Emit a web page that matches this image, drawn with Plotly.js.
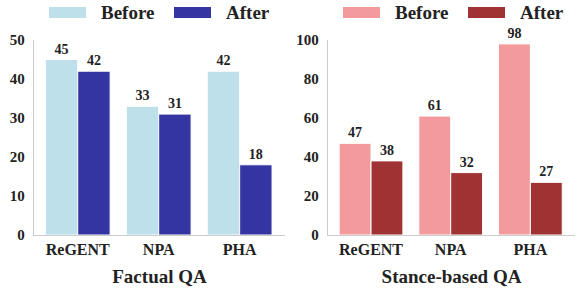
<!DOCTYPE html>
<html><head><meta charset="utf-8">
<script src="https://cdn.plot.ly/plotly-3.0.1.min.js"></script>
<style>html,body{margin:0;padding:0;background:#fff}#c{width:578px;height:291px}</style>
</head><body><div id="c"></div>
<script>
const categories = ["ReGENT", "NPA", "PHA"];
const seriesNames = ["Before", "After"];
const factualBefore = [45, 33, 42];
const factualAfter = [42, 31, 18];
const stanceBefore = [47, 61, 98];
const stanceAfter = [38, 32, 27];
const panelTitles = ["Factual QA", "Stance-based QA"];

const F = "Liberation Serif";
const colors = {fb: "#BEE0EB", fa: "#3434A2", sb: "#F39B9C", sa: "#A13234"};

function bar(y, color, xa, ya, name) {
  return {type: "bar", x: categories, y: y, name: name, xaxis: xa, yaxis: ya,
    marker: {color: color, line: {color: "#ffffff", width: 1}},
    text: y.map(String), textposition: "outside", cliponaxis: false,
    textfont: {family: F, size: 14, color: "#222", weight: "bold"},
    showlegend: false, hoverinfo: "skip"};
}
const data = [
  bar(factualBefore, colors.fb, "x", "y", seriesNames[0]),
  bar(factualAfter, colors.fa, "x", "y", seriesNames[1]),
  bar(stanceBefore, colors.sb, "x2", "y2", seriesNames[0]),
  bar(stanceAfter, colors.sa, "x2", "y2", seriesNames[1])
];

const yb = (291 - 235) / 291, yt = (291 - 40) / 291;
function xaxis(d, anchor, title) {
  return {domain: d, anchor: anchor, range: [-0.54, 2.56], showline: true, linecolor: "#cccccc", linewidth: 1.2,
    ticks: "", showgrid: false, zeroline: false, fixedrange: true,
    tickfont: {family: F, size: 16, color: "#222", weight: "bold"},
    title: {text: title, standoff: 12, font: {family: F, size: 19, color: "#222", weight: "bold"}}};
}
function yaxis(anchor, range, dtick) {
  return {domain: [yb, yt], anchor: anchor, range: range, dtick: dtick, showline: true, linecolor: "#cccccc", linewidth: 1.2,
    ticks: "", showgrid: false, zeroline: false, fixedrange: true, ticklabelstandoff: 5,
    tickfont: {family: F, size: 15, color: "#222", weight: "bold"}};
}

const shapes = [], annotations = [];
function legendItem(x0, color, name) {
  shapes.push({type: "rect", xref: "paper", yref: "paper", x0: x0 / 578, x1: (x0 + 37) / 578,
    y0: (291 - 18) / 291, y1: (291 - 7) / 291, fillcolor: color, line: {width: 0}});
  annotations.push({xref: "paper", yref: "paper", x: (x0 + 50) / 578, y: (291 - 13) / 291,
    xanchor: "left", yanchor: "middle", showarrow: false, text: name,
    font: {family: F, size: 19, color: "#222", weight: "bold"}});
}
legendItem(49, colors.fb, seriesNames[0]);
legendItem(174, colors.fa, seriesNames[1]);
legendItem(343, colors.sb, seriesNames[0]);
legendItem(468, colors.sa, seriesNames[1]);

const layout = {
  width: 578, height: 291, margin: {l: 0, r: 0, t: 0, b: 0},
  paper_bgcolor: "#fff", plot_bgcolor: "#fff",
  barmode: "group", bargap: 0.2, bargroupgap: 0,
  font: {family: F},
  xaxis: xaxis([34 / 578, 285 / 578], "y", panelTitles[0]),
  yaxis: yaxis("x", [0, 50], 10),
  xaxis2: xaxis([328 / 578, 575 / 578], "y2", panelTitles[1]),
  yaxis2: yaxis("x2", [0, 100], 20),
  shapes: shapes, annotations: annotations
};
Plotly.newPlot("c", data, layout, {displayModeBar: false, staticPlot: true});
</script></body></html>
